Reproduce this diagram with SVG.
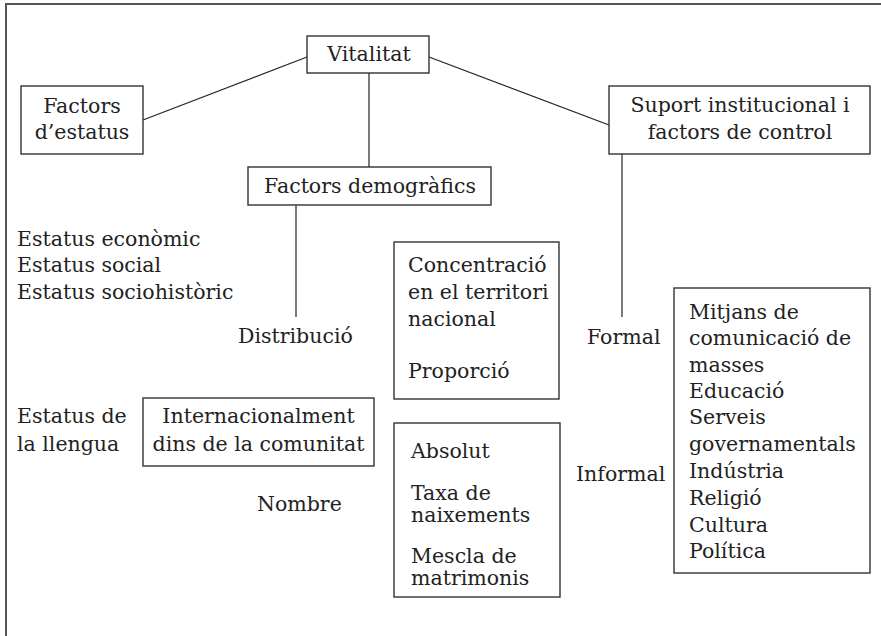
<svg xmlns="http://www.w3.org/2000/svg" width="881" height="636" viewBox="0 0 881 636">
<style>
text{font-family:"DejaVu Serif","Liberation Serif",serif;font-size:20.5px;fill:#222}
.c{text-anchor:middle}
.box{fill:#fff;stroke:#333;stroke-width:1.4}
.ln{stroke:#222;stroke-width:1.2;fill:none}
</style>
<rect x="6" y="4" width="920" height="700" fill="#fff" stroke="#555" stroke-width="2"/>
<g id="connectors">
<line class="ln" x1="307" y1="57" x2="143" y2="120"/>
<line class="ln" x1="369" y1="73" x2="369" y2="167"/>
<line class="ln" x1="429" y1="57" x2="609" y2="125"/>
<line class="ln" x1="296" y1="205" x2="296" y2="317"/>
<line class="ln" x1="622" y1="154" x2="622" y2="317"/>
</g>
<g id="vitalitat">
<rect class="box" x="307" y="36" width="122" height="37"/>
<text class="c" x="369" y="61">Vitalitat</text>
</g>
<g id="factors-estatus">
<rect class="box" x="21" y="86" width="122" height="68"/>
<text class="c" x="82" y="113">Factors</text>
<text class="c" x="82" y="139">d’estatus</text>
</g>
<g id="suport">
<rect class="box" x="609" y="86" width="261" height="68"/>
<text class="c" x="740" y="112">Suport institucional i</text>
<text class="c" x="740" y="139">factors de control</text>
</g>
<g id="demografics">
<rect class="box" x="248" y="167" width="243" height="38"/>
<text class="c" x="370" y="193">Factors demogràfics</text>
</g>
<g id="estatus-list">
<text x="17" y="246">Estatus econòmic</text>
<text x="17" y="272">Estatus social</text>
<text x="17" y="299">Estatus sociohistòric</text>
</g>
<g id="distribucio">
<text x="238" y="343">Distribució</text>
</g>
<g id="concentracio">
<rect class="box" x="394" y="242" width="165" height="157"/>
<text x="408" y="272">Concentració</text>
<text x="408" y="299">en el territori</text>
<text x="408" y="326">nacional</text>
<text x="408" y="378">Proporció</text>
</g>
<g id="estatus-llengua">
<text x="17" y="423">Estatus de</text>
<text x="17" y="451">la llengua</text>
</g>
<g id="internacional">
<rect class="box" x="143" y="398" width="231" height="68"/>
<text class="c" x="258.500" y="423">Internacionalment</text>
<text class="c" x="258.500" y="451">dins de la comunitat</text>
</g>
<g id="nombre">
<text x="257" y="511">Nombre</text>
</g>
<g id="absolut">
<rect class="box" x="394" y="423" width="166" height="174"/>
<text x="411" y="458">Absolut</text>
<text x="411" y="500">Taxa de</text>
<text x="411" y="522">naixements</text>
<text x="411" y="563">Mescla de</text>
<text x="411" y="585">matrimonis</text>
</g>
<g id="formal">
<text x="587" y="344">Formal</text>
</g>
<g id="informal">
<text x="576" y="481">Informal</text>
</g>
<g id="mitjans">
<rect class="box" x="674" y="288" width="196" height="285"/>
<text x="689" y="319">Mitjans de</text>
<text x="689" y="345">comunicació de</text>
<text x="689" y="372">masses</text>
<text x="689" y="398">Educació</text>
<text x="689" y="424">Serveis</text>
<text x="689" y="451">governamentals</text>
<text x="689" y="478">Indústria</text>
<text x="689" y="505">Religió</text>
<text x="689" y="532">Cultura</text>
<text x="689" y="558">Política</text>
</g>
</svg>
